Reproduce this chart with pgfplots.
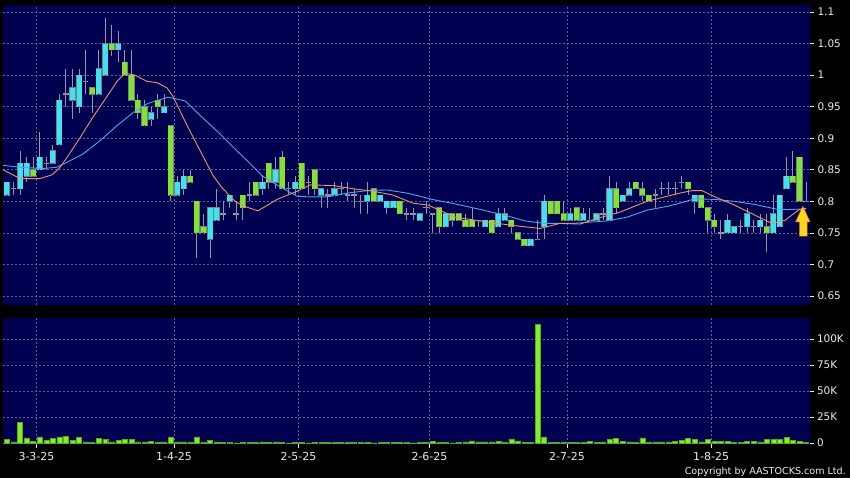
\documentclass[border=0pt]{standalone}
\usepackage{fontspec}
\setmainfont{DejaVu Sans}
\usepackage{pgfplots}
\usepackage{pgfplotstable}
\pgfplotsset{compat=1.18}
\definecolor{navybg}{RGB}{0,0,80}
\definecolor{gridc}{RGB}{95,95,150}
\definecolor{cyanc}{RGB}{64,226,240}
\definecolor{greenc}{RGB}{128,228,48}
\definecolor{wickc}{RGB}{150,150,165}
\definecolor{outc}{RGB}{115,130,130}
\definecolor{maorange}{RGB}{236,150,100}
\definecolor{mablue}{RGB}{70,170,240}
\definecolor{volc}{RGB}{128,240,40}
\definecolor{labc}{RGB}{235,235,235}
\definecolor{arrowc}{RGB}{255,215,30}

% cyan (up) candles: index, body low, body high, low, high
\pgfplotstableread{
i lo hi low high
0 0.81 0.83 0.81 0.83
2 0.82 0.86 0.81 0.88
3 0.84 0.86 0.83 0.87
5 0.85 0.87 0.85 0.91
7 0.86 0.88 0.86 0.89
8 0.89 0.96 0.89 0.97
10 0.96 0.98 0.93 1.01
11 0.95 1.00 0.94 1.01
14 0.97 1.01 0.97 1.04
15 1.00 1.05 1.00 1.09
17 1.04 1.05 1.02 1.07
22 0.93 0.94 0.92 0.95
24 0.94 0.95 0.94 0.97
26 0.81 0.83 0.81 0.84
27 0.82 0.84 0.81 0.85
31 0.74 0.79 0.71 0.79
32 0.77 0.79 0.77 0.82
34 0.80 0.81 0.79 0.81
39 0.82 0.83 0.81 0.84
41 0.83 0.85 0.82 0.87
44 0.82 0.83 0.81 0.84
48 0.81 0.82 0.79 0.82
50 0.81 0.82 0.81 0.83
55 0.80 0.81 0.78 0.83
57 0.80 0.81 0.80 0.81
58 0.79 0.80 0.78 0.80
59 0.79 0.80 0.79 0.80
63 0.77 0.78 0.77 0.78
67 0.76 0.78 0.76 0.78
73 0.76 0.77 0.76 0.77
75 0.76 0.78 0.76 0.79
76 0.77 0.78 0.77 0.79
80 0.73 0.74 0.73 0.74
82 0.76 0.80 0.74 0.81
86 0.77 0.78 0.77 0.79
88 0.77 0.78 0.77 0.79
90 0.77 0.78 0.77 0.78
92 0.77 0.82 0.77 0.84
94 0.80 0.81 0.80 0.81
95 0.81 0.82 0.81 0.83
105 0.80 0.81 0.78 0.81
110 0.75 0.77 0.75 0.78
111 0.75 0.76 0.75 0.76
113 0.76 0.78 0.75 0.79
115 0.76 0.77 0.75 0.78
117 0.75 0.78 0.75 0.81
118 0.76 0.81 0.76 0.81
119 0.82 0.84 0.82 0.87
}\cyanT

% green (down) candles
\pgfplotstableread{
i lo hi low high
4 0.84 0.85 0.84 0.87
13 0.97 0.98 0.94 0.98
16 1.04 1.05 1.03 1.08
18 1.00 1.02 1.00 1.04
19 0.96 1.00 0.96 1.04
20 0.94 0.96 0.93 0.97
21 0.92 0.95 0.92 0.96
23 0.95 0.96 0.93 0.97
25 0.81 0.92 0.80 0.92
28 0.83 0.84 0.83 0.85
29 0.75 0.80 0.71 0.80
30 0.75 0.76 0.75 0.78
36 0.79 0.81 0.77 0.81
38 0.81 0.83 0.81 0.83
40 0.83 0.86 0.82 0.86
42 0.82 0.87 0.82 0.88
45 0.82 0.86 0.82 0.86
47 0.82 0.85 0.81 0.85
56 0.80 0.82 0.80 0.82
60 0.78 0.80 0.78 0.80
66 0.76 0.79 0.75 0.79
68 0.77 0.78 0.76 0.78
69 0.77 0.78 0.77 0.78
70 0.76 0.77 0.76 0.78
71 0.76 0.77 0.76 0.79
74 0.75 0.77 0.75 0.77
77 0.76 0.77 0.75 0.77
78 0.74 0.75 0.74 0.75
79 0.73 0.74 0.73 0.74
83 0.78 0.80 0.78 0.80
84 0.78 0.80 0.78 0.80
85 0.77 0.78 0.77 0.80
87 0.77 0.79 0.77 0.79
93 0.79 0.82 0.78 0.83
96 0.82 0.83 0.82 0.83
97 0.81 0.82 0.80 0.83
98 0.80 0.81 0.80 0.81
104 0.82 0.83 0.81 0.83
106 0.79 0.81 0.79 0.81
107 0.77 0.79 0.75 0.79
108 0.76 0.77 0.75 0.78
116 0.75 0.76 0.72 0.78
120 0.83 0.84 0.83 0.88
121 0.80 0.87 0.80 0.87
}\greenT

% doji (open = close)
\pgfplotstableread{
i p low high
1 0.82 0.81 0.83
6 0.86 0.85 0.87
9 0.97 0.95 1.01
12 0.99 0.97 1.04
33 0.78 0.77 0.80
35 0.78 0.77 0.80
37 0.81 0.80 0.83
43 0.82 0.81 0.83
46 0.83 0.81 0.84
49 0.81 0.79 0.82
51 0.82 0.81 0.83
52 0.81 0.80 0.83
53 0.81 0.79 0.82
54 0.80 0.78 0.81
61 0.78 0.77 0.79
62 0.78 0.77 0.79
64 0.79 0.78 0.80
65 0.78 0.75 0.78
72 0.77 0.76 0.77
81 0.74 0.74 0.77
89 0.77 0.77 0.79
91 0.78 0.77 0.79
99 0.81 0.79 0.82
100 0.82 0.81 0.83
101 0.82 0.81 0.83
102 0.82 0.81 0.83
103 0.83 0.82 0.84
109 0.75 0.74 0.77
112 0.76 0.75 0.77
114 0.76 0.75 0.77
122 0.80 0.80 0.83
}\dojiT

% volume
\pgfplotstableread{
i v
0 3200
1 1000
2 20000
3 4800
4 1600
5 5800
6 2200
7 4200
8 5800
9 6400
10 2600
11 5400
12 1000
13 600
14 4200
15 3200
16 1000
17 2200
18 3800
19 3800
20 1000
21 1000
22 1500
23 500
24 1000
25 5800
26 1000
27 1000
28 300
29 5800
30 500
31 2200
32 1000
33 300
34 300
35 200
36 600
37 300
38 300
39 1000
40 300
41 1000
42 600
43 200
44 500
45 300
46 200
47 600
48 300
49 600
50 600
51 300
52 300
53 800
54 300
55 300
56 200
57 300
58 300
59 300
60 800
61 300
62 200
63 600
64 300
65 1600
66 300
67 300
68 200
69 300
70 1000
71 1900
72 1000
73 1000
74 1000
75 1600
76 600
77 3800
78 1900
79 600
80 300
81 113800
82 5800
83 300
84 300
85 1000
86 300
87 600
88 600
89 1600
90 600
91 1000
92 3200
93 4200
94 1600
95 1000
96 300
97 4800
98 300
99 1000
100 1000
101 1000
102 1600
103 2200
104 4200
105 3200
106 1000
107 3800
108 1300
109 1300
110 1600
111 300
112 300
113 1300
114 1300
115 1000
116 3500
117 3500
118 3800
119 5400
120 2200
121 1600
122 300
}\volT

\pgfplotsset{
  chartbase/.style={
    scale only axis, width=807bp,
    xmin=-0.61, xmax=122.6,
    axis background/.style={fill=navybg},
    axis line style={draw=none},
    xtick={4.5,25.5,44.5,64.5,85.5,107.5},
    ytick pos=right, yticklabel pos=right,
    tick align=outside, major tick length=4bp,
    ytick style={draw=labc, line width=0.8bp},
    yticklabel style={font=\fontsize{10.5}{12}\selectfont, text=labc},
    grid=major,
    major grid style={draw=gridc, dash pattern=on 2bp off 2bp, line width=0.6bp},
    /pgf/number format/assume math mode=true,
  },
  nomark/.style={only marks, mark=*, mark size=0.01pt,
    mark options={draw=none, fill=none}, forget plot},
  wick/.style={nomark,
    error bars/.cd, y dir=plus, y explicit, error mark=none,
    error bar style={line width=1bp, draw=wickc}},
  body/.style={nomark,
    error bars/.cd, y dir=plus, y explicit, error mark=none,
    error bar style={line width=5bp, draw=#1}},
  outline/.style={nomark,
    error bars/.cd, y dir=plus, y explicit, error mark=none,
    error bar style={line width=6.2bp, draw=outc}},
}

\begin{document}
\begin{tikzpicture}
\path[use as bounding box, fill=black] (0,0) rectangle (850bp,478bp);

% ---------------- price panel ----------------
\begin{axis}[chartbase,
  at={(3bp,173bp)}, anchor=south west, height=300bp,
  ymin=0.6358, ymax=1.111,
  xmajorticks=false,
  ytick={0.65,0.7,0.75,0.8,0.85,0.9,0.95,1,1.05,1.1},
  yticklabels={0.65,0.7,0.75,0.8,0.85,0.9,0.95,1,1.05,1.1},
]
% wicks
\addplot[wick] table[x=i, y=low, y error expr=\thisrow{high}-\thisrow{low}] {\cyanT};
\addplot[wick] table[x=i, y=low, y error expr=\thisrow{high}-\thisrow{low}] {\greenT};
\addplot[wick] table[x=i, y=low, y error expr=\thisrow{high}-\thisrow{low}] {\dojiT};
% body outlines
\addplot[outline] table[x=i, y expr=\thisrow{lo}-0.0008, y error expr=\thisrow{hi}-\thisrow{lo}+0.0016] {\cyanT};
\addplot[outline] table[x=i, y expr=\thisrow{lo}-0.0008, y error expr=\thisrow{hi}-\thisrow{lo}+0.0016] {\greenT};
% bodies
\addplot[body=cyanc] table[x=i, y=lo, y error expr=\thisrow{hi}-\thisrow{lo}] {\cyanT};
\addplot[body=greenc] table[x=i, y=lo, y error expr=\thisrow{hi}-\thisrow{lo}] {\greenT};
% doji dashes
\addplot[nomark,
  error bars/.cd, x dir=both, x fixed=0.42, error mark=none,
  error bar style={line width=1.2bp, draw=wickc}]
  table[x=i, y=p] {\dojiT};
% moving averages
\addplot[mablue, line width=0.9bp, mark=none] coordinates {
(-0.6,0.857) (2,0.854) (5.5,0.852) (7.6,0.854) (9.2,0.862) (11.6,0.875) (14.2,0.896)
(16.8,0.92) (19.2,0.94) (21.5,0.955) (24.6,0.965) (27.2,0.959) (29.8,0.933) (32.2,0.91)
(34.8,0.883) (37.4,0.857) (38.9,0.841) (41.7,0.823) (44.3,0.808) (46.3,0.807) (48.9,0.807)
(51.9,0.813) (55,0.817) (58,0.818) (61.1,0.813) (63.1,0.808) (64.9,0.803) (68.4,0.796)
(71.9,0.788) (76,0.778) (79.1,0.769) (82.1,0.765) (86.4,0.765) (91.6,0.769) (94.7,0.775)
(97.7,0.786) (100.8,0.792) (102.7,0.797) (105,0.804) (108.1,0.803) (111.1,0.80)
(114.2,0.795) (117.3,0.788) (119.2,0.787) (122,0.788)};
\addplot[maorange, line width=0.9bp, mark=none] coordinates {
(-0.6,0.85) (2,0.836) (5,0.836) (6.9,0.842) (8.1,0.854) (9.2,0.87) (11.1,0.90) (13.1,0.933)
(15.2,0.965) (16.8,0.99) (18,1.003) (19.5,1.0) (21.4,0.99) (22.9,0.988) (24.4,0.98)
(25.3,0.967) (27.5,0.92) (29.5,0.88) (31.5,0.84) (32.8,0.822) (34.8,0.80) (36.3,0.792)
(38.3,0.785) (39.8,0.794) (41.2,0.803) (44.3,0.816) (46.3,0.826) (49.8,0.825) (52.8,0.82)
(55.9,0.816) (58.9,0.81) (62,0.797) (64.3,0.794) (68.4,0.775) (73.4,0.767) (77.1,0.762)
(81.4,0.757) (84.4,0.765) (87.5,0.764) (90.1,0.773) (93.6,0.783) (97.7,0.80) (100.8,0.808)
(102.7,0.813) (104.6,0.817) (106.1,0.817) (108.1,0.807) (111.1,0.794) (114.2,0.778)
(116.8,0.765) (118.8,0.77) (120.8,0.786) (122,0.789)};
% yellow arrow
\addplot[fill=arrowc, draw=orange, line width=0.5bp, mark=none] coordinates {
(121.5,0.792) (122.6,0.7673) (122.16,0.7673) (122.16,0.745) (121.0,0.745) (121.0,0.7673) (120.4,0.7673)} -- cycle;
\end{axis}

% ---------------- volume panel ----------------
\begin{axis}[chartbase,
  at={(3bp,34bp)}, anchor=south west, height=126bp,
  ymin=-1000, ymax=120200,
  major tick length=3.5bp,
  ytick={0,25000,50000,75000,100000},
  yticklabels={0,25K,50K,75K,100K},
  scaled y ticks=false,
  xticklabels={3-3-25,1-4-25,2-5-25,2-6-25,2-7-25,1-8-25},
  xtick pos=bottom,
  xtick style={draw=labc, line width=0.8bp},
  xticklabel style={font=\fontsize{11}{13}\selectfont, text=labc, yshift=-1bp},
]
\addplot[ybar, bar width=5bp, fill=volc, draw=volc!70!black, line width=0.4bp] table[x=i, y=v] {\volT};
\end{axis}

\node[anchor=base east, text=labc, font=\fontsize{9.6}{11}\selectfont, inner sep=0pt] at (846bp,4bp) {Copyright by AASTOCKS.com Ltd.};
\end{tikzpicture}
\end{document}
